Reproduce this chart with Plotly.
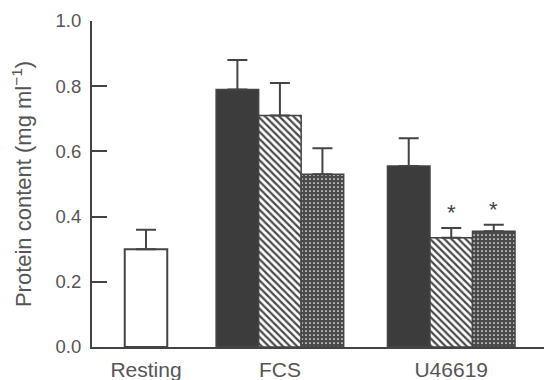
import plotly.graph_objects as go

# ---- data ----
categories = ["Resting", "FCS", "U46619"]
resting_mean = [0.30]
resting_err = [0.06]
treat_groups = ["FCS", "U46619"]
series_names = ["Control", "Treatment A", "Treatment B"]
series_means = [
    [0.79, 0.555],
    [0.71, 0.335],
    [0.53, 0.355],
]
series_errs = [
    [0.09, 0.085],
    [0.10, 0.030],
    [0.08, 0.020],
]
significant = [
    [False, False],
    [False, True],
    [False, True],
]
y_ticks = [0.0, 0.2, 0.4, 0.6, 0.8, 1.0]

# ---- layout constants (in bar-width units) ----
group_center = {"Resting": 1.27, "FCS": 4.42, "U46619": 8.45}
bar_w = 1.0
x_max = 10.82

INK = "#444444"
TEXT = "#555555"
FONT = "Liberation Sans, Arial, Helvetica, sans-serif"

fig = go.Figure()

err_style = dict(type="data", symmetric=False, color=INK, thickness=2, width=10)

fig.add_trace(go.Bar(
    x=[group_center[c] for c in ["Resting"]], y=resting_mean, width=bar_w,
    marker=dict(color="white", line=dict(color=INK, width=2)),
    error_y=dict(array=resting_err, arrayminus=[0] * len(resting_err), **err_style),
    showlegend=False,
))

styles = [
    dict(color="#3c3c3c", line=dict(color=INK, width=1.5)),
    dict(color="white", line=dict(color=INK, width=1.5),
         pattern=dict(shape="\\", fgcolor="#4a4a4a", bgcolor="white", size=5, solidity=0.45, fillmode="replace")),
    dict(color="#4a4a4a", line=dict(color=INK, width=1.5),
         pattern=dict(shape=".", fgcolor="white", bgcolor="#4a4a4a", size=4, solidity=0.15, fillmode="replace")),
]
offsets = [-1.5, -0.5, 0.5]

for i, name in enumerate(series_names):
    xs = [group_center[g] for g in treat_groups]
    fig.add_trace(go.Bar(
        x=xs, y=series_means[i], width=bar_w, offset=offsets[i] * bar_w,
        marker=styles[i], name=name, showlegend=False,
        error_y=dict(array=series_errs[i], arrayminus=[0] * len(series_errs[i]), **err_style),
    ))
    for j, g in enumerate(treat_groups):
        if significant[i][j]:
            fig.add_annotation(
                x=group_center[g] + (offsets[i] + 0.5) * bar_w,
                y=series_means[i][j] + series_errs[i][j],
                text="*", showarrow=False, yanchor="bottom", yshift=1,
                font=dict(size=22, color=INK, family=FONT),
            )

# page body has an 8px margin; margins below compensate for it
fig.update_layout(
    width=552, height=380,
    margin=dict(l=84, r=8, t=13, b=41, autoexpand=False),
    paper_bgcolor="white", plot_bgcolor="white",
    barmode="overlay",
    font=dict(family=FONT, color=TEXT, size=19),
)
fig.update_xaxes(
    range=[0, x_max], showgrid=False, zeroline=False, automargin=False,
    showline=True, linecolor=INK, linewidth=2,
    tickmode="array", tickvals=[group_center[c] for c in categories], ticktext=categories,
    ticks="", tickfont=dict(size=21, color=TEXT), ticklabelstandoff=3,
)
fig.update_yaxes(
    range=[0, 1.0], showgrid=False, zeroline=False, automargin=False,
    showline=True, linecolor=INK, linewidth=2,
    tickmode="array", tickvals=y_ticks, ticktext=[f"{v:.1f}" for v in y_ticks],
    ticks="inside", ticklen=15, tickwidth=2, tickcolor=INK,
    tickfont=dict(size=18.5, color=TEXT), ticklabelstandoff=5,
    title=dict(text="Protein content (mg ml<sup>−1</sup>)", font=dict(size=22, color=TEXT), standoff=20),
)

fig.write_html("out.html")
